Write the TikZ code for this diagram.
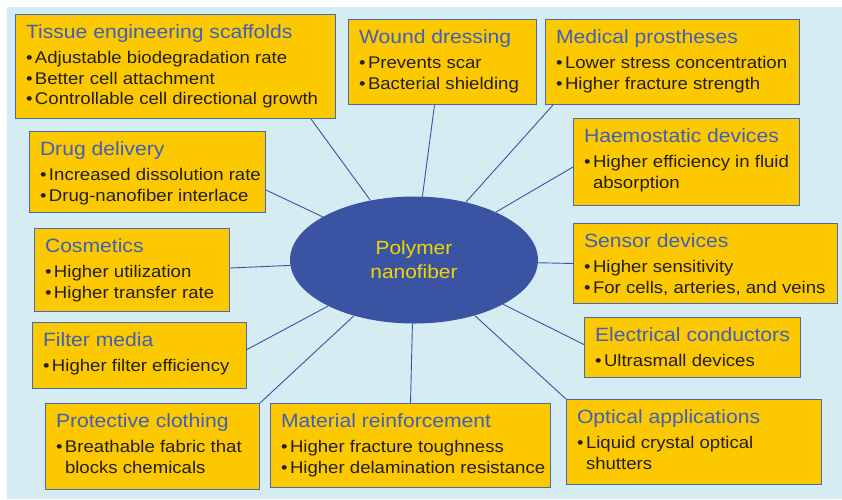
\documentclass[tikz,border=0pt]{standalone}
\usepackage{fontspec}
\setmainfont{Liberation Sans}[FakeStretch=1.1]
\usetikzlibrary{shapes.geometric}

\definecolor{bgblue}{HTML}{D5ECF3}
\definecolor{boxfill}{HTML}{FCC800}
\definecolor{boxline}{HTML}{4A68B5}
\definecolor{titleblue}{HTML}{4060B8}
\definecolor{ellblue}{HTML}{3A54A3}
\definecolor{ellyellow}{HTML}{F2D500}
\definecolor{txt}{HTML}{231F20}

\newcommand{\itm}[1]{\mbox{\textbullet\hspace{2.5pt}#1}}
\newcommand{\gap}{\hphantom{\textbullet\hspace{2.5pt}}}
% box text: width, height, title, items
\newcommand{\panel}[4]{\parbox[c][#2pt][t]{#1pt}{\raggedright\leftskip=10.5pt
  \fontsize{16.9}{20.5}\selectfont\color{txt}%
  \rule{0pt}{23.5pt}{\fontsize{19.2}{20.5}\selectfont\color{titleblue}#3}\\[5pt]#4}}

\begin{document}
\begin{tikzpicture}[x=1pt, y=-1pt,
    panelbox/.style={draw=boxline, fill=boxfill, line width=1pt, inner sep=0pt, anchor=north west},
    link/.style={draw=ellblue, line width=0.9pt}]
                \useasboundingbox (0,0) rectangle (842,499);
                \fill [bgblue] (7,7) rectangle (842,499);

                \node [ellipse, fill=ellblue, minimum width=248pt, minimum height=127pt, align=center,
                       text=ellyellow, font=\fontsize{19}{24}\selectfont] (poly) at (414,260) {Polymer\\nanofiber};

                % left column
                \node [panelbox] (tissue) at (15,14) {\panel{320}{104}{Tissue engineering scaffolds}{%
                    \itm{Adjustable biodegradation rate}\\ \itm{Better cell attachment}\\ \itm{Controllable cell directional growth}}};
                \node [panelbox] (drug) at (29,131) {\panel{236}{81}{Drug delivery}{%
                    \itm{Increased dissolution rate}\\ \itm{Drug-nanofiber interlace}}};
                \node [panelbox] (cosm) at (34,228) {\panel{195}{83}{Cosmetics}{%
                    \itm{Higher utilization}\\ \itm{Higher transfer rate}}};
                \node [panelbox] (filter) at (32,322) {\panel{214}{66}{Filter media}{%
                    \itm{Higher filter efficiency}}};
                \node [panelbox] (prot) at (45,403) {\panel{214}{86}{Protective clothing}{%
                    \itm{Breathable fabric that}\\ \gap blocks chemicals}};

                % middle
                \node [panelbox] (wound) at (348,19) {\panel{188}{85}{Wound dressing}{%
                    \itm{Prevents scar}\\ \itm{Bacterial shielding}}};
                \node [panelbox] (mat) at (270,403) {\panel{280}{84}{Material reinforcement}{%
                    \itm{Higher fracture toughness}\\ \itm{Higher delamination resistance}}};

                % right column
                \node [panelbox] (medical) at (545,19) {\panel{254}{85}{Medical prostheses}{%
                    \itm{Lower stress concentration}\\ \itm{Higher fracture strength}}};
                \node [panelbox] (haemo) at (573,118) {\panel{226}{87}{Haemostatic devices}{%
                    \itm{Higher efficiency in fluid}\\ \gap absorption}};
                \node [panelbox] (sensor) at (573,223) {\panel{264}{80}{Sensor devices}{%
                    \itm{Higher sensitivity}\\ \itm{For cells, arteries, and veins}}};
                \node [panelbox] (elec) at (584,317) {\panel{216}{60}{Electrical conductors}{%
                    \itm{Ultrasmall devices}}};
                \node [panelbox] (optic) at (566,399) {\panel{255}{85}{Optical applications}{%
                    \itm{Liquid crystal optical}\\ \gap shutters}};

                \draw [link] (poly) -- ([xshift=-25pt]tissue.south east);
                \draw [link] (poly) -- ([yshift=-18pt]drug.east);
                \draw [link] (poly) -- ([yshift=2pt]cosm.east);
                \draw [link] (poly) -- ([yshift=6pt]filter.east);
                \draw [link] (poly) -- (prot.north east);
                \draw [link] (poly) -- (mat.north);
                \draw [link] (poly) -- ([xshift=-8pt]wound.south);
                \draw [link] (poly) -- ([xshift=8pt]medical.south west);
                \draw [link] (poly) -- ([yshift=-5pt]haemo.west);
                \draw [link] (poly) -- (sensor.west);
                \draw [link] (poly) -- ([yshift=3pt]elec.west);
                \draw [link] (poly) -- (optic.north west);
            \end{tikzpicture}
\end{document}
